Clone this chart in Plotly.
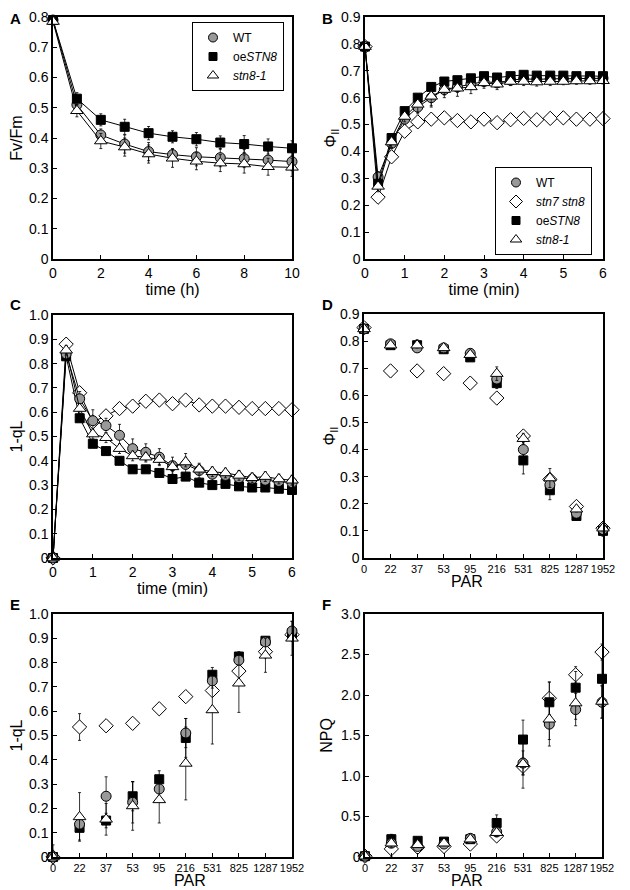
import plotly.graph_objects as go
from plotly.subplots import make_subplots

# ---- data ----
hours = [0, 1, 2, 3, 4, 5, 6, 7, 8, 9, 10]
a_wt = [0.79, 0.51, 0.41, 0.38, 0.355, 0.345, 0.338, 0.335, 0.332, 0.327, 0.322]
a_oe = [0.79, 0.53, 0.46, 0.437, 0.416, 0.404, 0.396, 0.385, 0.38, 0.372, 0.366]
a_stn8 = [0.785, 0.49, 0.39, 0.37, 0.347, 0.333, 0.323, 0.317, 0.314, 0.305, 0.303]
a_wt_err = [0.01, 0.02, 0.02, 0.03, 0.03, 0.02, 0.03, 0.03, 0.03, 0.03, 0.03]
a_oe_err = [0.01, 0.02, 0.02, 0.025, 0.022, 0.02, 0.022, 0.022, 0.028, 0.025, 0.025]
a_stn8_err = [0.01, 0.02, 0.025, 0.03, 0.03, 0.03, 0.028, 0.028, 0.03, 0.028, 0.03]

minutes = [0, 0.33, 0.67, 1, 1.33, 1.67, 2, 2.33, 2.67, 3, 3.33, 3.67, 4,
           4.33, 4.67, 5, 5.33, 5.67, 6]
b_wt = [0.79, 0.305, 0.43, 0.52, 0.565, 0.6, 0.63, 0.64, 0.65, 0.66, 0.655,
        0.665, 0.67, 0.668, 0.67, 0.67, 0.67, 0.67, 0.672]
b_stn7 = [0.79, 0.23, 0.38, 0.475, 0.51, 0.52, 0.525, 0.515, 0.51, 0.52, 0.507,
          0.518, 0.523, 0.518, 0.523, 0.525, 0.52, 0.52, 0.522]
b_oe = [0.79, 0.28, 0.45, 0.55, 0.6, 0.64, 0.66, 0.665, 0.672, 0.68, 0.675,
        0.68, 0.685, 0.682, 0.682, 0.682, 0.68, 0.68, 0.68]
b_stn8 = [0.79, 0.27, 0.435, 0.53, 0.575, 0.605, 0.63, 0.635, 0.64, 0.655, 0.65,
          0.66, 0.66, 0.658, 0.66, 0.66, 0.662, 0.662, 0.663]
b_wt_err = [0.01, 0.02, 0.02, 0.02, 0.025, 0.03, 0.02, 0.02, 0.02, 0.015, 0.015,
            0.01, 0.01, 0.01, 0.01, 0.01, 0.01, 0.01, 0.01]
b_stn8_err = [0.01, 0.02, 0.02, 0.02, 0.03, 0.04, 0.03, 0.03, 0.025, 0.02, 0.02,
              0.015, 0.015, 0.015, 0.015, 0.012, 0.012, 0.012, 0.012]

c_wt = [0.0, 0.84, 0.655, 0.565, 0.545, 0.505, 0.45, 0.435, 0.415, 0.38, 0.385,
        0.36, 0.345, 0.34, 0.33, 0.325, 0.32, 0.315, 0.31]
c_stn7 = [0.0, 0.88, 0.68, 0.56, 0.585, 0.615, 0.625, 0.645, 0.65, 0.635, 0.65,
          0.63, 0.625, 0.625, 0.62, 0.615, 0.615, 0.615, 0.61]
c_oe = [0.0, 0.83, 0.575, 0.47, 0.44, 0.4, 0.365, 0.365, 0.35, 0.325, 0.335,
        0.31, 0.3, 0.305, 0.295, 0.29, 0.29, 0.285, 0.28]
c_stn8 = [0.0, 0.855, 0.615, 0.51, 0.495, 0.45, 0.42, 0.415, 0.405, 0.375, 0.395,
          0.365, 0.355, 0.35, 0.34, 0.33, 0.335, 0.325, 0.32]
c_wt_err = [0.01, 0.02, 0.03, 0.045, 0.03, 0.045, 0.04, 0.035, 0.035, 0.035, 0.045,
            0.03, 0.025, 0.025, 0.025, 0.02, 0.02, 0.02, 0.02]
c_stn8_err = [0.01, 0.02, 0.02, 0.02, 0.02, 0.02, 0.02, 0.02, 0.02, 0.02, 0.02,
              0.02, 0.02, 0.02, 0.02, 0.02, 0.02, 0.02, 0.02]

par = ["0", "22", "37", "53", "95", "216", "531", "825", "1287", "1952"]
d_wt = [0.845, 0.79, 0.775, 0.775, 0.755, 0.66, 0.4, 0.27, 0.165, 0.105]
d_stn7 = [0.85, 0.69, 0.69, 0.68, 0.645, 0.59, 0.45, 0.29, 0.19, 0.11]
d_oe = [0.845, 0.785, 0.785, 0.77, 0.74, 0.645, 0.36, 0.25, 0.155, 0.1]
d_stn8 = [0.845, 0.785, 0.785, 0.775, 0.75, 0.68, 0.44, 0.295, 0.18, 0.11]
d_wt_err = [0.01, 0.01, 0.01, 0.01, 0.01, 0.02, 0.03, 0.03, 0.01, 0.01]
d_stn7_err = [0.01, 0.02, 0.01, 0.01, 0.01, 0.01, 0.01, 0.01, 0.01, 0.01]
d_oe_err = [0.01, 0.01, 0.02, 0.01, 0.01, 0.02, 0.05, 0.035, 0.01, 0.02]
d_stn8_err = [0.01, 0.01, 0.01, 0.01, 0.01, 0.025, 0.02, 0.035, 0.01, 0.01]

e_wt = [0.0, 0.135, 0.25, 0.225, 0.28, 0.51, 0.725, 0.81, 0.885, 0.93]
e_stn7 = [0.0, 0.535, 0.54, 0.55, 0.61, 0.66, 0.685, 0.765, 0.845, 0.915]
e_oe = [0.0, 0.12, 0.15, 0.25, 0.32, 0.49, 0.75, 0.825, 0.89, 0.92]
e_stn8 = [0.0, 0.165, 0.155, 0.21, 0.235, 0.385, 0.605, 0.715, 0.83, 0.9]
e_wt_err = [0.01, 0.03, 0.08, 0.085, 0.05, 0.06, 0.03, 0.02, 0.015, 0.04]
e_stn7_err = [0.01, 0.055, 0.01, 0.01, 0.01, 0.01, 0.01, 0.01, 0.01, 0.01]
e_oe_err = [0.01, 0.05, 0.03, 0.06, 0.035, 0.08, 0.03, 0.02, 0.015, 0.02]
e_stn8_err = [0.05, 0.1, 0.065, 0.1, 0.095, 0.15, 0.14, 0.12, 0.07, 0.07]

f_wt = [0.01, 0.17, 0.13, 0.16, 0.23, 0.31, 1.16, 1.64, 1.82, 1.91]
f_stn7 = [0.01, 0.1, 0.12, 0.13, 0.16, 0.26, 1.12, 1.96, 2.25, 2.53]
f_oe = [0.01, 0.22, 0.2, 0.19, 0.22, 0.42, 1.45, 1.91, 2.09, 2.2]
f_stn8 = [0.01, 0.17, 0.15, 0.17, 0.22, 0.3, 1.15, 1.7, 1.9, 1.92]
f_wt_err = [0.01, 0.03, 0.03, 0.03, 0.03, 0.04, 0.15, 0.27, 0.2, 0.2]
f_stn7_err = [0.01, 0.1, 0.02, 0.02, 0.02, 0.04, 0.1, 0.2, 0.1, 0.1]
f_oe_err = [0.01, 0.06, 0.03, 0.03, 0.03, 0.1, 0.24, 0.25, 0.2, 0.25]
f_stn8_err = [0.01, 0.05, 0.03, 0.03, 0.03, 0.05, 0.3, 0.25, 0.2, 0.2]

FONT = "Liberation Sans, Arial, sans-serif"

styles = {
    "WT": dict(symbol="circle", color="#999999", size=10),
    "stn7": dict(symbol="diamond", color="white", size=11),
    "oe": dict(symbol="square", color="black", size=9),
    "stn8": dict(symbol="triangle-up", color="white", size=11),
}
names = {
    "WT": "WT",
    "stn7": "<i>stn7 stn8</i>",
    "oe": "oe<i>STN8</i>",
    "stn8": "<i>stn8-1</i>",
}

fig = make_subplots(rows=3, cols=2)


def add(key, x, y, err, row, col, lines):
    st = styles[key]
    fig.add_trace(go.Scatter(
        x=x, y=y, mode="lines+markers" if lines else "markers",
        line=dict(color="black", width=1),
        marker=dict(symbol=st["symbol"], color=st["color"], size=st["size"],
                    line=dict(color="black", width=1)),
        error_y=dict(type="data", array=err, color="black", thickness=0.8, width=1.5)
        if err is not None else None,
        cliponaxis=False, showlegend=False, name=names[key],
    ), row=row, col=col)


def legend_entry(key, legend):
    st = styles[key]
    fig.add_trace(go.Scatter(
        x=[None], y=[None], mode="markers", name=names[key], legend=legend,
        marker=dict(symbol=st["symbol"], color=st["color"], size=st["size"] - 1,
                    line=dict(color="black", width=1)),
    ), row=1, col=1)


# A
add("WT", hours, a_wt, a_wt_err, 1, 1, True)
add("oe", hours, a_oe, a_oe_err, 1, 1, True)
add("stn8", hours, a_stn8, a_stn8_err, 1, 1, True)
# B
add("WT", minutes, b_wt, b_wt_err, 1, 2, True)
add("stn7", minutes, b_stn7, None, 1, 2, True)
add("oe", minutes, b_oe, None, 1, 2, True)
add("stn8", minutes, b_stn8, b_stn8_err, 1, 2, True)
# C
add("stn7", minutes, c_stn7, None, 2, 1, True)
add("oe", minutes, c_oe, None, 2, 1, True)
add("WT", minutes, c_wt, c_wt_err, 2, 1, True)
add("stn8", minutes, c_stn8, c_stn8_err, 2, 1, True)
# D, E, F
pidx = list(range(len(par)))
for (row, col), sets in {
    (2, 2): [("stn7", d_stn7, d_stn7_err), ("oe", d_oe, d_oe_err),
             ("WT", d_wt, d_wt_err), ("stn8", d_stn8, d_stn8_err)],
    (3, 1): [("stn7", e_stn7, e_stn7_err), ("oe", e_oe, e_oe_err),
             ("WT", e_wt, e_wt_err), ("stn8", e_stn8, e_stn8_err)],
    (3, 2): [("stn7", f_stn7, f_stn7_err), ("oe", f_oe, f_oe_err),
             ("WT", f_wt, f_wt_err), ("stn8", f_stn8, f_stn8_err)],
}.items():
    for key, vals, err in sets:
        add(key, pidx, vals, err, row, col, False)

for k in ["WT", "oe", "stn8"]:
    legend_entry(k, "legend")
for k in ["WT", "stn7", "oe", "stn8"]:
    legend_entry(k, "legend2")

axis_style = dict(showline=True, linecolor="black", linewidth=1.5, mirror=True,
                  ticks="inside", ticklen=4, tickcolor="black", tickwidth=1,
                  showgrid=False, zeroline=False, automargin=False,
                  ticklabeloverflow="allow",
                  tickfont=dict(size=14, color="black", family=FONT),
                  title_font=dict(size=16, color="black", family=FONT))

# the page puts the plot 8px in from the top-left corner of the window
W, H, OFF = 630, 890, 8
def px_x(a, b): return [(a - OFF) / W, (b - OFF) / W]
def px_y(top, bottom): return [1 - (bottom - OFF) / H, 1 - (top - OFF) / H]

domains = {
    (1, 1): (px_x(53, 292), px_y(17, 259)),
    (1, 2): (px_x(365, 603), px_y(17, 259)),
    (2, 1): (px_x(53, 292), px_y(315, 558)),
    (2, 2): (px_x(364, 603), px_y(314, 558)),
    (3, 1): (px_x(53, 292), px_y(614, 857)),
    (3, 2): (px_x(365, 602), px_y(614, 857)),
}
for (r, c), (dx, dy) in domains.items():
    fig.update_xaxes(domain=dx, row=r, col=c, **axis_style)
    fig.update_yaxes(domain=dy, row=r, col=c, **axis_style)

ticks01 = [i / 10 for i in range(11)]
fig.update_xaxes(range=[0, 10], tickvals=[0, 2, 4, 6, 8, 10], title_text="time (h)",
                 title_standoff=2, row=1, col=1)
fig.update_yaxes(range=[0, 0.8], tickvals=ticks01[:9],
                 ticktext=["0"] + [f"{v:.1f}" for v in ticks01[1:9]],
                 title_text="Fv/Fm", title_standoff=4, row=1, col=1)
fig.update_xaxes(range=[0, 6], dtick=1, title_text="time (min)", title_standoff=2, row=1, col=2)
fig.update_yaxes(range=[0, 0.9], tickvals=ticks01[:10],
                 ticktext=["0"] + [f"{v:.1f}" for v in ticks01[1:10]],
                 title_text="Φ<sub>II</sub>", title_standoff=0, row=1, col=2)
fig.update_xaxes(range=[0, 6], dtick=1, title_text="time (min)", title_standoff=2, row=2, col=1)
fig.update_yaxes(range=[0, 1.0], tickvals=ticks01,
                 ticktext=["0"] + [f"{v:.1f}" for v in ticks01[1:]],
                 title_text="1-qL", title_standoff=4, row=2, col=1)
for r, c in [(2, 2), (3, 1), (3, 2)]:
    fig.update_xaxes(range=[0, 9], tickvals=pidx, ticktext=par,
                     tickangle=0, tickfont=dict(size=11), row=r, col=c)
fig.update_yaxes(range=[0, 0.9], tickvals=ticks01[:10],
                 ticktext=["0"] + [f"{v:.1f}" for v in ticks01[1:10]],
                 title_text="Φ<sub>II</sub>", title_standoff=0, row=2, col=2)
fig.update_yaxes(range=[0, 1.0], tickvals=ticks01,
                 ticktext=["0"] + [f"{v:.1f}" for v in ticks01[1:]],
                 title_text="1-qL", title_standoff=4, row=3, col=1)
npq_ticks = [0, 0.5, 1.0, 1.5, 2.0, 2.5, 3.0]
fig.update_yaxes(range=[0, 3.0], tickvals=npq_ticks,
                 ticktext=["0"] + [f"{v:.1f}" for v in npq_ticks[1:]],
                 title_text="NPQ", title_standoff=4, row=3, col=2)

# PAR titles sit tight under the tick labels, closer than an axis title can
for (r, c), ty in {(2, 2): 581, (3, 1): 880, (3, 2): 880}.items():
    dx = domains[(r, c)][0]
    fig.add_annotation(text="PAR", x=(dx[0] + dx[1]) / 2, y=1 - (ty - OFF) / H,
                       xref="paper", yref="paper", yanchor="middle", showarrow=False,
                       borderpad=0, font=dict(size=16, color="black", family=FONT))

letters = [("A", 8, 8), ("B", 320, 8), ("C", 8, 294), ("D", 320, 294),
           ("E", 8, 594), ("F", 320, 594)]
for txt, lx, ly in letters:
    fig.add_annotation(text=f"<b>{txt}</b>", x=(lx - OFF) / W, y=1 - (ly - OFF) / H,
                       xref="paper", yref="paper", xanchor="left", yanchor="top",
                       showarrow=False, font=dict(size=15, color="black", family=FONT))

legend_style = dict(bgcolor="white", bordercolor="black", borderwidth=1,
                    font=dict(size=12, color="black", family=FONT),
                    xanchor="right", yanchor="top", tracegroupgap=0, itemwidth=30)
fig.update_layout(
    width=W, height=H,
    margin=dict(l=0, r=0, t=0, b=0),
    paper_bgcolor="white", plot_bgcolor="white",
    font=dict(family=FONT, color="black"),
    legend=dict(x=(284 - OFF) / W, y=1 - (22 - OFF) / H, **legend_style),
    legend2=dict(x=(592 - OFF) / W, y=1 - (167 - OFF) / H, **legend_style),
)

fig.write_html("out.html")
